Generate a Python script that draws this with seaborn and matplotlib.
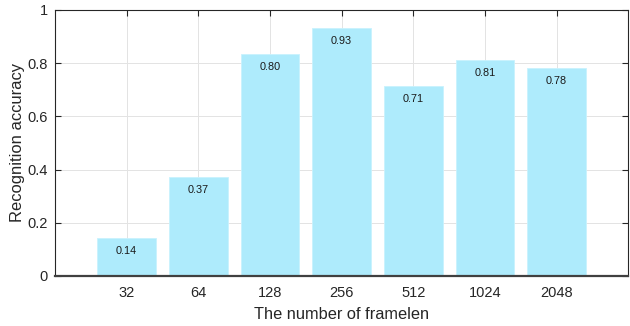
import pandas as pd
import matplotlib
matplotlib.use('Agg')
import matplotlib.pyplot as plt
import seaborn as sns

# --- data ---
framelen = ['32', '64', '128', '256', '512', '1024', '2048']
accuracy = [0.143, 0.373, 0.835, 0.932, 0.714, 0.812, 0.783]
labels = ['0.14', '0.37', '0.80', '0.93', '0.71', '0.81', '0.78']

BAR_COLOR = '#aeebfc'

sns.set_theme(style='white')
plt.rcParams['font.family'] = ['Liberation Sans', 'DejaVu Sans']

df = pd.DataFrame({'framelen': framelen, 'accuracy': accuracy})

fig = plt.figure(figsize=(6.3, 3.26), dpi=100)
ax = fig.add_axes([0.0873, 0.1534, 0.910, 0.816])

sns.barplot(data=df, x='framelen', y='accuracy', color=BAR_COLOR, width=0.82,
            saturation=1, edgecolor='#c8f2fd', linewidth=0.6, ax=ax, zorder=2)

# value labels sit just inside the top of each bar
for i, (h, t) in enumerate(zip(accuracy, labels)):
    ax.text(i, h - 0.05, t, ha='center', va='center', fontsize=7.8, color='#1a1a1a', zorder=3)

ax.set_xlim(-1, 7)
ax.set_ylim(0, 1)
ax.set_yticks([0, 0.2, 0.4, 0.6, 0.8, 1])
ax.set_yticklabels(['0', '0.2', '0.4', '0.6', '0.8', '1'])
ax.grid(True, color='#e3e3e3', linewidth=0.7, zorder=0)
ax.set_axisbelow(True)

ax.tick_params(direction='in', length=4, width=0.8, color='#262626',
               labelsize=10.5, labelcolor='#262626', top=True, right=True,
               bottom=False, left=True)
ax.tick_params(axis='x', pad=7)
ax.tick_params(axis='y', pad=5)
for s in ax.spines.values():
    s.set_color('#262626')
    s.set_linewidth(0.8)
ax.spines['bottom'].set_linewidth(1.6)
ax.spines['bottom'].set_color('#404040')

ax.set_xlabel('The number of framelen', fontsize=11.8, color='#262626', labelpad=5)
ax.set_ylabel('Recognition accuracy', fontsize=11.9, color='#262626', labelpad=2)

fig.savefig('out.png', dpi=100)
